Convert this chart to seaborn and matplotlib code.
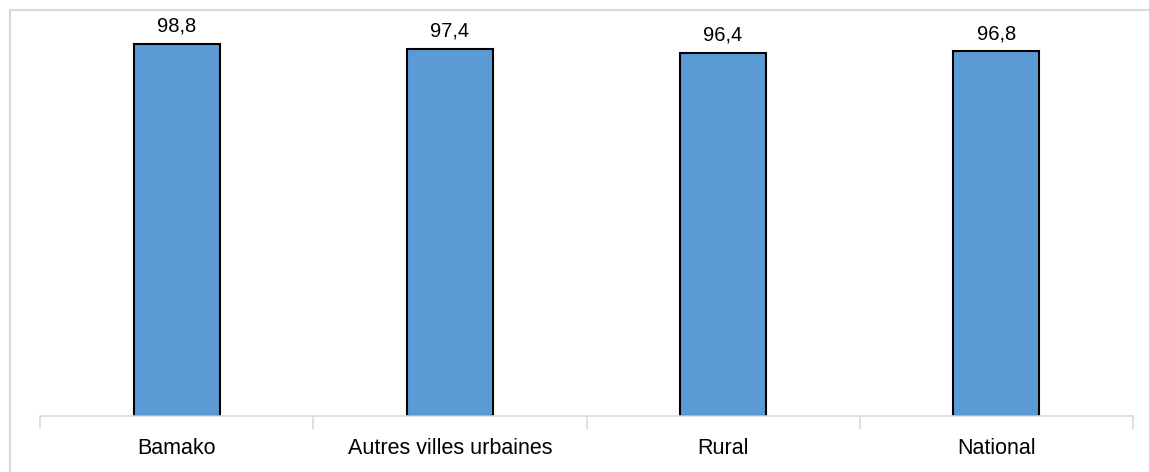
import numpy as np
import pandas as pd
import matplotlib
matplotlib.use("Agg")
import matplotlib.pyplot as plt
import seaborn as sns
from matplotlib.patches import Rectangle

categories = ["Bamako", "Autres villes urbaines", "Rural", "National"]
values = [98.8, 97.4, 96.4, 96.8]

df = pd.DataFrame({"zone": categories, "valeur": values})

sns.set_style("white")
plt.rcParams['font.family'] = ['Liberation Sans', 'DejaVu Sans']
plt.rcParams['text.color'] = 'black'
plt.rcParams['xtick.color'] = 'black'

fig = plt.figure(figsize=(11.49, 4.72), dpi=100)
ax = fig.add_axes([40 / 1149, 56 / 472, 1093 / 1149, 377 / 472])

sns.barplot(data=df, x="zone", y="valeur", color="#5B9BD5", saturation=1,
            width=0.315, edgecolor="black", linewidth=1.5, ax=ax)

for i, v in enumerate(values):
    ax.annotate(f"{v:.1f}".replace(".", ","), (i, v), xytext=(0, 8.5),
                textcoords="offset points", ha="center", va="baseline",
                fontsize=14.5, color="black", annotation_clip=False)

ax.set_xlim(-0.5, len(categories) - 0.5)
ax.set_ylim(0, 100)
ax.set_xlabel("")
ax.set_ylabel("")
ax.set_yticks([])
ax.tick_params(axis="x", which="major", bottom=True, length=0,
               labelsize=15.5, labelcolor="black", pad=16)
ax.set_xticks(np.arange(-0.5, len(categories)), minor=True)
ax.tick_params(axis="x", which="minor", bottom=True, length=9, width=1.2,
               color="#D9D9D9")
for s in ["left", "right", "top"]:
    ax.spines[s].set_visible(False)
ax.spines["bottom"].set_color("#D9D9D9")
ax.spines["bottom"].set_linewidth(1.2)

# light frame around the chart area
fig.patches.append(Rectangle((10 / 1149, -0.1), 1.2, (462 / 472) + 0.1,
                             transform=fig.transFigure, fill=False,
                             edgecolor="#D9D9D9", linewidth=1.5))

fig.savefig("out.png", dpi=100)
